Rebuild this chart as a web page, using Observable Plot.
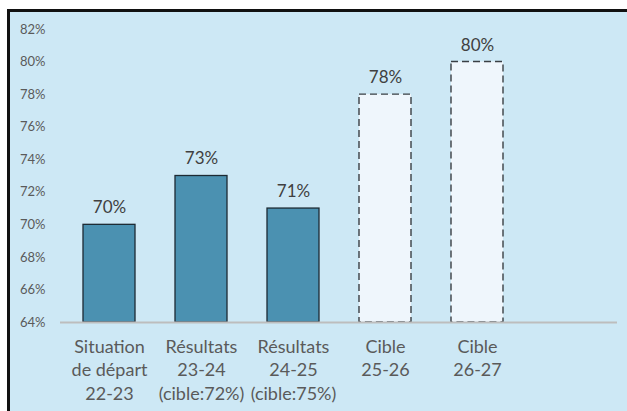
<!DOCTYPE html>
<html>
<head>
<meta charset="utf-8">
<script src="https://cdn.jsdelivr.net/npm/d3@7"></script>
<script src="https://cdn.jsdelivr.net/npm/@observablehq/plot@0.6"></script>
<style>
  html, body { margin: 0; padding: 0; background: #ffffff; width: 627px; height: 411px; overflow: hidden; }
  #frame { position: absolute; left: 7px; top: 9px; width: 640px; height: 420px;
           background: #cde8f5; border-top: 3px solid #111; border-left: 3px solid #111; }
  #chart { position: absolute; left: 0; top: 0; }
  #chart svg { background: transparent; }
</style>
</head>
<body>
<div id="frame"></div>
<div id="chart"></div>
<script>
const categories = ["Situation de départ 22-23", "Résultats 23-24 (cible:72%)", "Résultats 24-25 (cible:75%)", "Cible 25-26", "Cible 26-27"];
const labels = ["Situation\nde départ\n22-23", "Résultats\n23-24\n(cible:72%)", "Résultats\n24-25\n(cible:75%)", "Cible\n25-26", "Cible\n26-27"];
const values = [0.70, 0.73, 0.71, 0.78, 0.80];
const kinds = ["réel", "réel", "réel", "cible", "cible"];
const yTicks = [0.64, 0.66, 0.68, 0.70, 0.72, 0.74, 0.76, 0.78, 0.80, 0.82];

const data = categories.map((c, i) => ({category: c, label: labels[i], value: values[i], kind: kinds[i]}));
const actual = data.filter(d => d.kind === "réel");
const target = data.filter(d => d.kind === "cible");
const labelOf = new Map(data.map(d => [d.category, d.label]));
const domainX = [...categories, " "];

const chart = Plot.plot({
  width: 627,
  height: 411,
  marginLeft: 60,
  marginRight: 10,
  marginTop: 29,
  marginBottom: 89,
  style: {fontFamily: "Lato, 'Open Sans', sans-serif", background: "transparent"},
  x: {domain: domainX, paddingInner: 0.44, paddingOuter: 0.22, axis: null},
  y: {domain: [0.64, 0.82], axis: null},
  marks: [
    Plot.axisY({ticks: yTicks, tickFormat: d => Math.round(d * 100) + "%", tickSize: 0, tickPadding: 15,
                fontSize: 13, fill: "#5a5a5a", label: null}),
    Plot.axisX({tickFormat: d => labelOf.get(d) ?? "", tickSize: 0, tickPadding: 13, fontSize: 18,
                lineHeight: 1.33, fill: "#5a5a5a", label: null}),
    Plot.barY(actual, {x: "category", y1: 0.64, y2: "value", fill: "#4b91b1", stroke: "#1c2a33", strokeWidth: 1.3}),
    Plot.barY(target, {x: "category", y1: 0.64, y2: "value", fill: "#eff6fc", stroke: "#3a3f44", strokeWidth: 1.4, strokeDasharray: "7,4"}),
    Plot.ruleY([0.64], {stroke: "#bdbdbd", strokeWidth: 2}),
    Plot.text(data, {x: "category", y: "value", text: d => Math.round(d.value * 100) + "%", dy: -17,
                     fontSize: 17, fill: "#404040"})
  ]
});
document.getElementById("chart").appendChild(chart);
</script>
</body>
</html>
